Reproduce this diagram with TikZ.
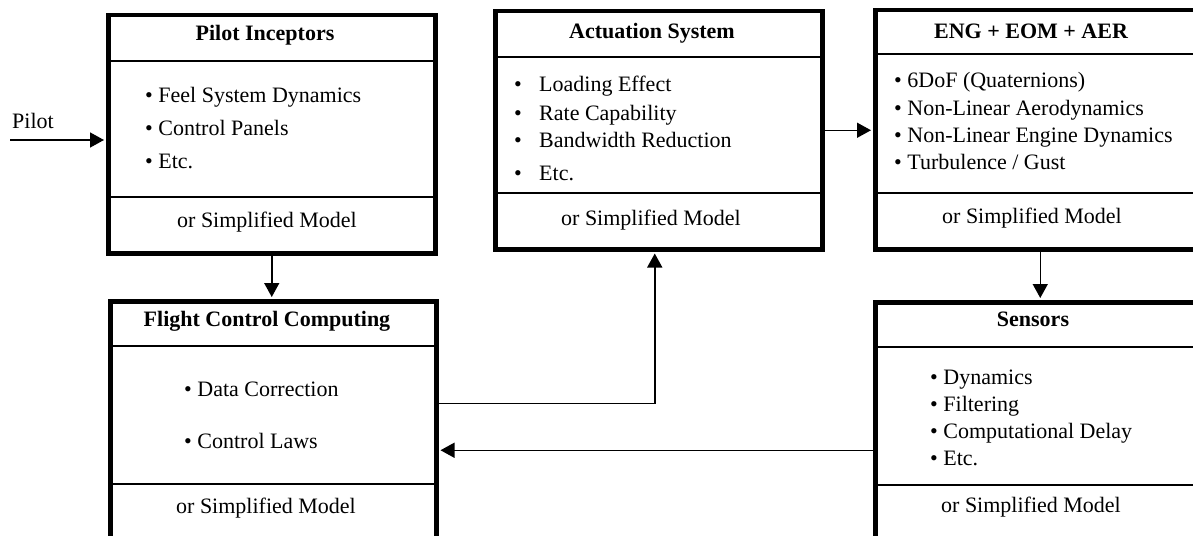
\documentclass[tikz,border=0pt]{standalone}
\usepackage{fontspec}
\setmainfont{Liberation Serif}
\usetikzlibrary{arrows.meta}

\begin{document}
\begin{tikzpicture}[x=1pt, y=-1pt, line join=miter, >={Triangle[length=14pt,width=15pt]},
  blockbox/.style={draw, line width=4.5pt, rectangle, inner sep=0pt, anchor=north west},
  sep/.style={line width=1.5pt},
  flow/.style={line width=1.5pt, ->, shorten >=2pt},
  txt/.style={font=\fontsize{22}{26}\selectfont, inner sep=0pt},
  title/.style={txt, font=\fontsize{22}{26}\selectfont\bfseries, anchor=base},
  item/.style={txt, anchor=base west},
  model/.style={txt, anchor=base}]
  \useasboundingbox (0,0) rectangle (1193,535);
  \clip (0,0) rectangle (1193,535);

  % blocks (right and bottom ones run off the page)
  \node[blockbox, minimum width=327pt, minimum height=238pt] (pilot) at (106,13) {};
  \node[blockbox, minimum width=327pt, minimum height=238pt] (act) at (493,9) {};
  \node[blockbox, minimum width=330pt, minimum height=239pt] (eng) at (873,8) {};
  \node[blockbox, minimum width=326pt, minimum height=260pt] (fcc) at (108,299) {};
  \node[blockbox, minimum width=330pt, minimum height=260pt] (sens) at (873,300) {};

  % section rules
  \draw[sep] (106,61) -- (433,61) (106,197) -- (433,197);
  \draw[sep] (493,57) -- (820,57) (493,193) -- (820,193);
  \draw[sep] (873,54) -- (1203,54) (873,193) -- (1203,193);
  \draw[sep] (108,346) -- (434,346) (108,484) -- (434,484);
  \draw[sep] (873,347) -- (1203,347) (873,485) -- (1203,485);

  % titles
  \node[title] (pilot-title) at (265,41) {Pilot Inceptors};
  \node[title] (act-title) at (652,38) {Actuation System};
  \node[title] (eng-title) at (1031,38) {ENG + EOM + AER};
  \node[title] (fcc-title) at (267,326) {Flight Control Computing};
  \node[title] (sens-title) at (1033,326) {Sensors};

  % bullet lists
  \foreach \t [count=\i] in {Feel System Dynamics, Control Panels, Etc.}
    \node[item] (pilot-\i) at (145,69+33*\i) {\textbullet\ \t};
  \foreach \t/\y [count=\i] in {Loading Effect/92, Rate Capability/120, Bandwidth Reduction/147, Etc./180}
    \node[item] (act-\i) at (514,\y) {\makebox[25pt][l]{\textbullet}\t};
  \foreach \t [count=\i] in {{6DoF (Quaternions)}, Non-Linear Aerodynamics, Non-Linear Engine Dynamics, Turbulence / Gust}
    \node[item] (eng-\i) at (894,61+27*\i) {\textbullet\ \t};
  \foreach \t [count=\i] in {Data Correction, Control Laws}
    \node[item] (fcc-\i) at (184,344+52*\i) {\textbullet\ \t};
  \foreach \t [count=\i] in {Dynamics, Filtering, Computational Delay, Etc.}
    \node[item] (sens-\i) at (930,357+27*\i) {\textbullet\ \t};

  % simplified model rows
  \node[model] (pilot-model) at (267,227) {or Simplified Model};
  \node[model] (act-model) at (651,225) {or Simplified Model};
  \node[model] (eng-model) at (1032,223) {or Simplified Model};
  \node[model] (fcc-model) at (266,513) {or Simplified Model};
  \node[model] (sens-model) at (1031,512) {or Simplified Model};

  % signal flow
  \node[txt, anchor=base west] (pilotlbl) at (12,128) {Pilot};
  \coordinate (pilotin) at (10,140);
  \draw[flow] (pilotin) -- (pilotin -| pilot.west);
  \draw[flow] (pilot.south) -- (pilot.south |- fcc.north);
  \draw[flow] ([yshift=28pt]fcc.east) -| ([xshift=-4pt]act.south);
  \draw[flow] (act.east) -- (act.east -| eng.west);
  \draw[flow] (eng.south) -- (sens.north);
  \draw[flow] ([yshift=-18pt]sens.west) -- ([yshift=-19pt]fcc.east);
\end{tikzpicture}
\end{document}
